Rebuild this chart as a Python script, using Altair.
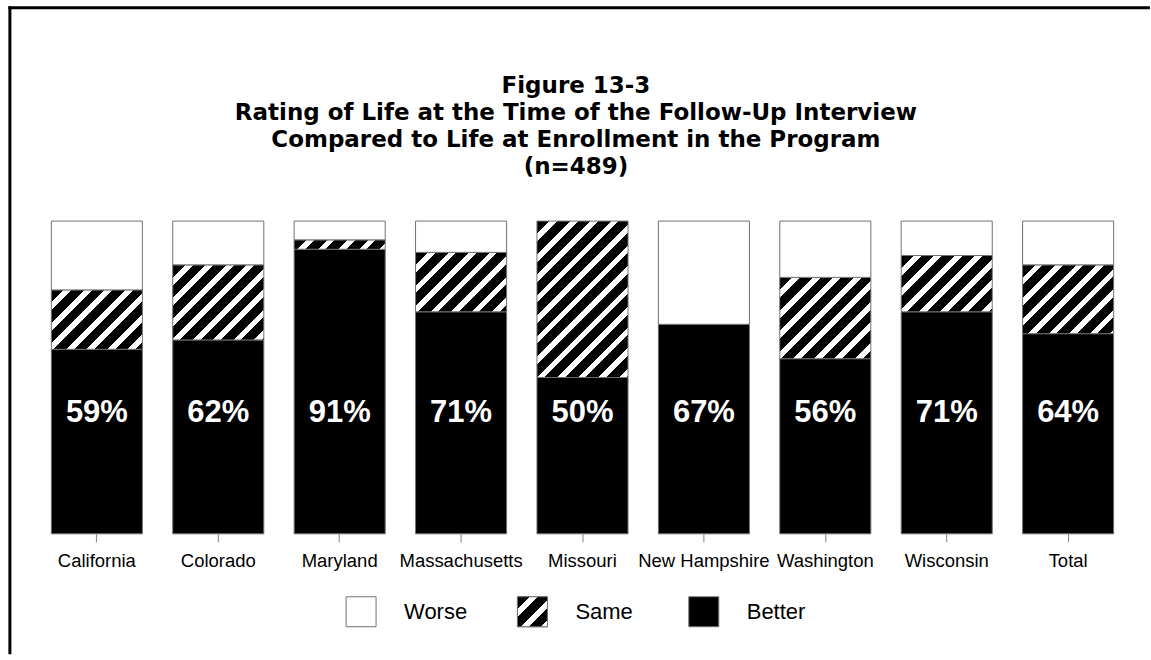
import altair as alt
import pandas as pd

# Rating of life at follow-up vs. at enrollment, percent of participants
states = ["California", "Colorado", "Maryland", "Massachusetts", "Missouri",
          "New Hampshire", "Washington", "Wisconsin", "Total"]
better = [59, 62, 91, 71, 50, 67, 56, 71, 64]
same = [19, 24, 3, 19, 50, 0, 26, 18, 22]
worse = [22, 14, 6, 10, 0, 33, 18, 11, 14]

legend_labels = ["Worse", "Same", "Better"]
legend_order = [0, 1, 2]

title_lines = [
    "Figure 13-3",
    "Rating of Life at the Time of the Follow-Up Interview",
    "Compared to Life at Enrollment in the Program",
    "(n=489)",
]

FONT = "Liberation Sans"
TITLE_FONT = "DejaVu Sans"
PLOT_W = 1124
PLOT_H = 313
PAD_INNER = 0.25
PAD_OUTER = 0.25
STEP = PLOT_W / (len(states) - PAD_INNER + 2 * PAD_OUTER)
BAR_W = STEP * (1 - PAD_INNER)
EDGE = "#707070"

HATCH_PERIOD = 20.5   # stripe repeat along x or y, in px
HATCH_WHITE = 0.38    # share of each repeat that is white


def hatch(w, h):
    """Diagonal '/' stripes as a hard-stop linear gradient for a w x h box."""
    span = (w + h) / HATCH_PERIOD
    stops = [alt.GradientStop(color="black", offset=0)]
    k = 0
    last = "black"
    while True:
        o1 = (k + 1 - HATCH_WHITE) / span
        if o1 >= 1:
            break
        stops += [alt.GradientStop(color="black", offset=o1),
                  alt.GradientStop(color="white", offset=o1)]
        last = "white"
        o2 = (k + 1) / span
        if o2 >= 1:
            break
        stops += [alt.GradientStop(color="white", offset=o2),
                  alt.GradientStop(color="black", offset=o2)]
        last = "black"
        k += 1
    stops.append(alt.GradientStop(color=last, offset=1))
    a = (w + h) / (w * w + h * h)
    return alt.LinearGradient(gradient="linear", stops=stops,
                              x1=0, y1=0, x2=a * w, y2=a * h)


df = pd.DataFrame({"state": states, "better": better,
                   "same": same, "worse": worse})

x_enc = alt.X(
    "state:N", sort=states,
    scale=alt.Scale(domain=states, paddingInner=PAD_INNER, paddingOuter=PAD_OUTER),
    axis=alt.Axis(title=None, labelAngle=0, domain=False, grid=False,
                  labelFont=FONT, labelFontSize=18.5, labelColor="black",
                  tickColor="#808080", tickSize=8, tickWidth=1, labelPadding=9.5),
)
y_scale = alt.Scale(domain=[0, 100], nice=False, zero=True)

better_layer = alt.Chart().mark_bar(fill="black", stroke=EDGE, strokeWidth=1).encode(
    x=x_enc,
    y=alt.Y("better:Q", scale=y_scale, axis=None, stack=None),
)

same_layers = []
for s, b, v in zip(states, better, same):
    if v <= 0:
        continue
    same_layers.append(
        alt.Chart()
        .transform_filter(alt.datum.state == s)
        .transform_calculate(lo="datum.better", hi="datum.better + datum.same")
        .mark_bar(fill=hatch(BAR_W, v * PLOT_H / 100), stroke=EDGE, strokeWidth=1)
        .encode(x=x_enc,
                y=alt.Y("lo:Q", scale=y_scale, axis=None),
                y2="hi:Q")
    )

worse_layer = (
    alt.Chart()
    .transform_filter(alt.datum.worse > 0)
    .transform_calculate(lo="datum.better + datum.same",
                         hi="datum.better + datum.same + datum.worse")
    .mark_bar(fill="white", stroke=EDGE, strokeWidth=1)
    .encode(x=x_enc, y=alt.Y("lo:Q", scale=y_scale, axis=None), y2="hi:Q")
)

pct_layer = (
    alt.Chart()
    .transform_calculate(label="datum.better + '%'")
    .mark_text(color="white", font=FONT, fontSize=31, fontWeight="bold",
               baseline="middle", align="center")
    .encode(x=x_enc, y=alt.YDatum(38.5, scale=y_scale, axis=None), text="label:N")
)

bars = alt.layer(better_layer, *same_layers, worse_layer, pct_layer, data=df)

# Legend: three swatches with their labels below the bars
leg_df = pd.DataFrame({"label": legend_labels, "i": legend_order})
leg_x = alt.X("i:Q", scale=alt.Scale(domain=[0, 2], range=[340.4, 683.4]), axis=None)

leg_sq = alt.Chart(leg_df).mark_square(size=900, stroke=EDGE, strokeWidth=1, opacity=1).encode(
    x=leg_x, y=alt.value(391),
    fill=alt.condition(alt.datum.label == "Better", alt.value("black"), alt.value("white")),
)
leg_hatch = (
    alt.Chart(leg_df)
    .transform_filter(alt.datum.label == "Same")
    .mark_square(size=900, fill=hatch(30, 30), stroke=EDGE, strokeWidth=1, opacity=1)
    .encode(x=leg_x, y=alt.value(391))
)
leg_text = alt.Chart(leg_df).mark_text(
    font=FONT, fontSize=22, color="black", align="left", baseline="middle", dx=43
).encode(x=leg_x, y=alt.value(391), text="label:N")

one = pd.DataFrame({"k": [0]})

title_text = alt.Chart(one).mark_text(
    text=title_lines, font=TITLE_FONT, fontSize=23, fontWeight="bold", color="black",
    lineHeight=26.8, align="center", baseline="middle",
).encode(x=alt.value(555.4), y=alt.value(-135))

frame_left = alt.Chart(one).mark_rule(color="black", strokeWidth=3, strokeCap="square").encode(
    x=alt.value(-11.1), y=alt.value(-213.5), y2=alt.value(432))
frame_top = alt.Chart(one).mark_rule(color="black", strokeWidth=3, strokeCap="square").encode(
    x=alt.value(-11.1), x2=alt.value(1128.4), y=alt.value(-213.5))

chart = (
    alt.layer(bars, leg_sq, leg_hatch, leg_text, title_text, frame_left, frame_top)
    .resolve_scale(x="independent")
    .properties(width=PLOT_W, height=PLOT_H,
                padding={"left": 7, "top": 5, "right": 0, "bottom": 0},
                background="white")
    .configure_view(stroke=None)
)

chart.save("out.html", embed_options={"renderer": "svg", "actions": False})
